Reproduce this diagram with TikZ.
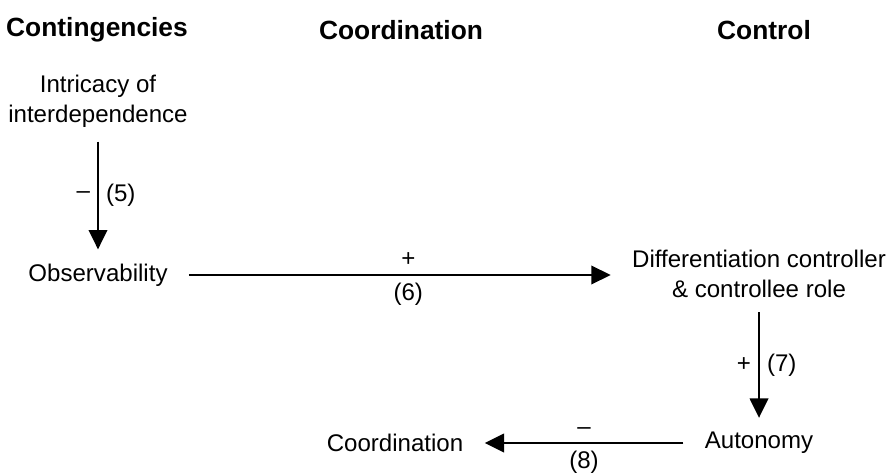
\documentclass[tikz,border=0pt]{standalone}
\usepackage{fontspec}
\setmainfont{Liberation Sans}
\usetikzlibrary{arrows.meta}

\tikzset{
  var/.style={align=center, inner xsep=12pt, inner ysep=8pt},
  head/.style={font=\fontsize{15}{17}\selectfont\bfseries, inner sep=0pt},
  link/.style={line width=1.2pt, -{Triangle[length=11pt,width=10.5pt]}},
  sign/.style={inner sep=4pt},
}

\begin{document}
\begin{tikzpicture}[x=0.02cm, y=-0.02cm, font=\fontsize{13.7}{17}\selectfont]
\useasboundingbox (0,0) rectangle (889,476);
% column heads
\node[head] (hcont) at (97,30) {Contingencies};
\node[head] (hcoord) at (401,30) {Coordination};
\node[head] (hctrl) at (764,30) {Control};

\node[var] (intr) at (98,101) {Intricacy of\\interdependence};
\node[var] (obs) at (98,275) {Observability};
\node[var] (diff) at (759,274) {Differentiation controller\\\& controllee role};
\node[var] (auto) at (759,443) {Autonomy};
\node[var] (coord) at (395,443) {Coordination};

\draw[link] (intr) -- node[sign,left] {\textendash} node[sign,right] {(5)} (obs);
\draw[link] (obs.east) -- node[sign,above,pos=0.52] {+} node[sign,below,pos=0.52] {(6)} (obs.east -| diff.west);
\draw[link] (diff) -- node[sign,left] {+} node[sign,right] {(7)} (auto);
\draw[link] (auto.west) -- node[sign,above] {\textendash} node[sign,below] {(8)} (coord.east);
\end{tikzpicture}
\end{document}
